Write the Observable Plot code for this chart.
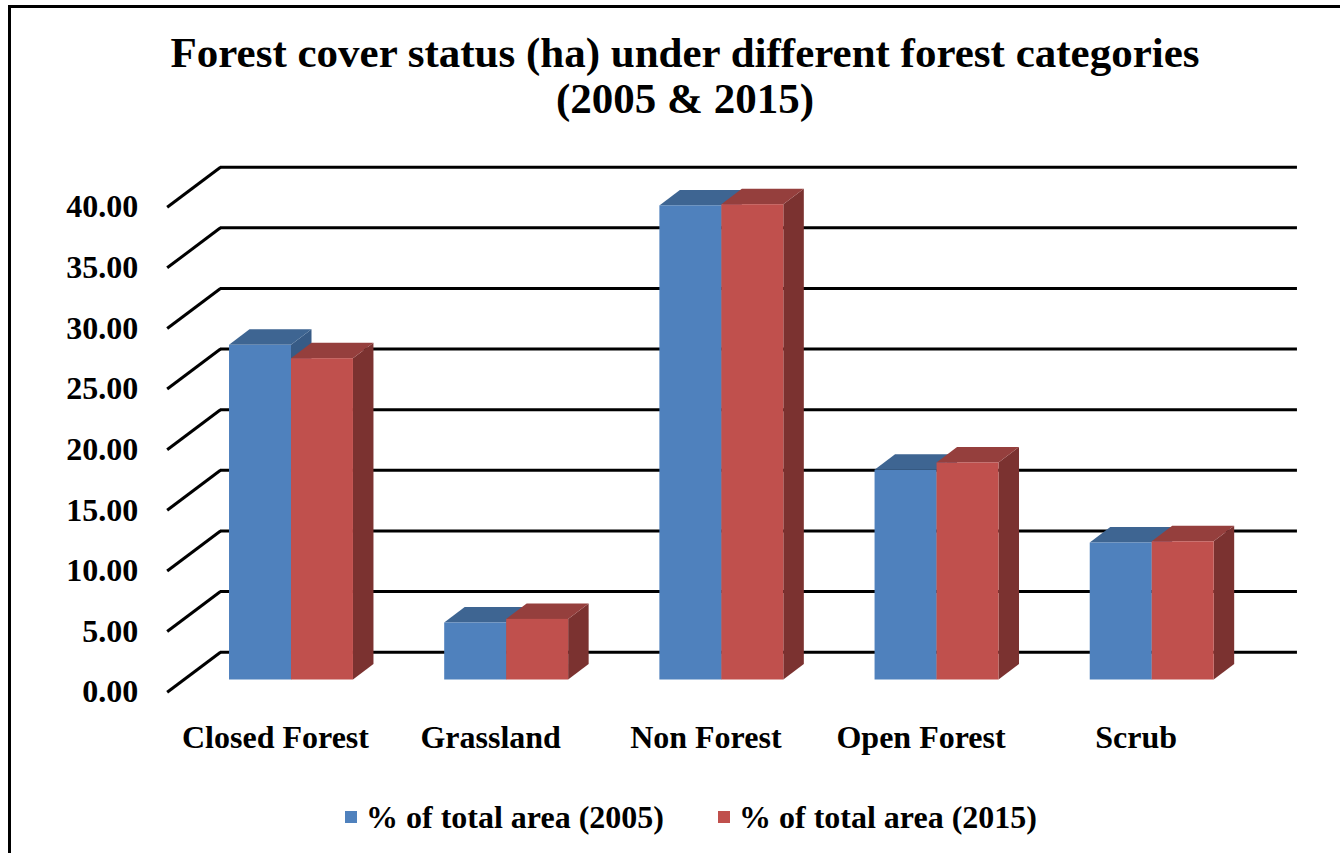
<!DOCTYPE html>
<html>
<head>
<meta charset="utf-8">
<script src="https://cdn.jsdelivr.net/npm/d3@7"></script>
<script src="https://cdn.jsdelivr.net/npm/@observablehq/plot@0.6"></script>
<style>
html,body{margin:0;padding:0;background:#fff;}
#wrap{position:relative;width:1340px;height:853px;overflow:hidden;font-family:"Liberation Serif","Times New Roman",serif;font-weight:bold;color:#000;background:#fff;}
#frame{position:absolute;left:8px;top:5px;width:1400px;height:900px;border:3px solid #000;box-sizing:border-box;pointer-events:none;}
#title{height:140px;box-sizing:border-box;padding-top:30px;padding-left:30px;text-align:center;font-size:43px;line-height:46px;}
#chart svg{display:block;}
#legend{display:flex;align-items:center;box-sizing:border-box;height:83px;padding-top:11px;padding-left:345px;font-size:32px;line-height:32px;white-space:nowrap;}
.sw{width:12px;height:12px;margin-right:9px;}
.item{display:flex;align-items:center;margin-right:54px;}
</style>
</head>
<body>
<div id="wrap">
  <div id="title">Forest cover status (ha) under different forest categories<br>(2005 &amp; 2015)</div>
  <div id="chart"></div>
  <div id="legend"></div>
  <div id="frame"></div>
</div>
<script>
// ---- data ----
const categories = ["Closed Forest", "Grassland", "Non Forest", "Open Forest", "Scrub"];
const pct2005 = [27.6, 4.7, 39.1, 17.3, 11.3];
const pct2015 = [26.5, 5.0, 39.2, 17.9, 11.4];
const seriesNames = ["% of total area (2005)", "% of total area (2015)"];
const yTicks = [0, 5, 10, 15, 20, 25, 30, 35, 40];

// ---- styles ----
const palette = [
  {front: "#4F81BD", top: "#3E6592", side: "#375B86"},
  {front: "#C0504D", top: "#953F3D", side: "#7B3230"}
];

// ---- 3D geometry (in scale units) ----
const BAR_W = 0.288;         // width of one bar (category units)
const DEPTH_X = 0.0953;      // bar depth, horizontal component
const DEPTH_Y = 1.278;       // bar depth, vertical component (value units)
const FLOOR_Y = -1.006;      // front edge of floor relative to bar front
const WALL_Y = 2.293;        // back wall relative to bar front
const FLOOR_LEFT = -0.5777;  // left front corner of floor
const WALL_LEFT = -0.33;     // left edge of back wall
const WALL_RIGHT = 4.675;    // right edge of back wall

const series = [pct2005, pct2015];
const bars = [];
series.forEach((vals, s) => {
  vals.forEach((v, i) => {
    const xa = s === 0 ? i - BAR_W : i;
    bars.push({id: s + "-" + i, s, i, v, xa, xb: xa + BAR_W});
  });
});

function topRows(s) {
  return bars.filter(b => b.s === s).flatMap(b => [
    {id: b.id, y: b.v, x1: b.xa, x2: b.xb},
    {id: b.id, y: b.v + DEPTH_Y, x1: b.xa + DEPTH_X, x2: b.xb + DEPTH_X}
  ]);
}
function sideRows(s) {
  return bars.filter(b => b.s === s).flatMap(b => [
    {id: b.id, x: b.xb, y1: 0, y2: b.v},
    {id: b.id, x: b.xb + DEPTH_X, y1: DEPTH_Y, y2: b.v + DEPTH_Y}
  ]);
}

const barMarks = [0, 1].flatMap(s => [
  Plot.areaY(sideRows(s), {x: "x", y1: "y1", y2: "y2", z: "id", fill: palette[s].side, curve: "linear"}),
  Plot.areaX(topRows(s), {y: "y", x1: "x1", x2: "x2", z: "id", fill: palette[s].top, curve: "linear"}),
  Plot.rect(bars.filter(b => b.s === s), {x1: "xa", x2: "xb", y1: 0, y2: "v", fill: palette[s].front})
]);

const chart = Plot.plot({
  width: 1340,
  height: 630,
  marginLeft: 183.4,
  marginRight: 80.7,
  marginTop: 54.5,
  marginBottom: 90.5,
  x: {type: "linear", domain: [-0.5, 4.5], axis: null},
  y: {type: "linear", domain: [0, 40], axis: null},
  style: {fontFamily: "'Liberation Serif', 'Times New Roman', serif", fontWeight: "bold", fontSize: "32px", background: "white", color: "black"},
  marks: [
    // back wall gridlines
    Plot.ruleY(yTicks, {y: d => d + WALL_Y, x1: () => WALL_LEFT, x2: () => WALL_RIGHT, stroke: "black", strokeWidth: 3}),
    // left side-wall diagonals
    Plot.link(yTicks, {x1: () => FLOOR_LEFT, y1: d => d + FLOOR_Y, x2: () => WALL_LEFT, y2: d => d + WALL_Y, stroke: "black", strokeWidth: 3}),
    ...barMarks,
    // y tick labels
    Plot.text(yTicks, {x: () => FLOOR_LEFT, y: d => d + FLOOR_Y, text: d => d.toFixed(2), textAnchor: "end", dx: -29, fontSize: 32, fontWeight: "bold", fill: "black"}),
    // category labels
    Plot.text(categories, {x: (d, i) => i - 0.0744, y: () => -4.8, text: d => d, fontSize: 32, fontWeight: "bold", fill: "black"})
  ]
});
document.getElementById("chart").appendChild(chart);

const legend = document.getElementById("legend");
seriesNames.forEach((name, s) => {
  const item = document.createElement("div");
  item.className = "item";
  const sw = document.createElement("div");
  sw.className = "sw";
  sw.style.background = palette[s].front;
  const t = document.createElement("span");
  t.textContent = name;
  item.appendChild(sw);
  item.appendChild(t);
  legend.appendChild(item);
});
</script>
</body>
</html>
